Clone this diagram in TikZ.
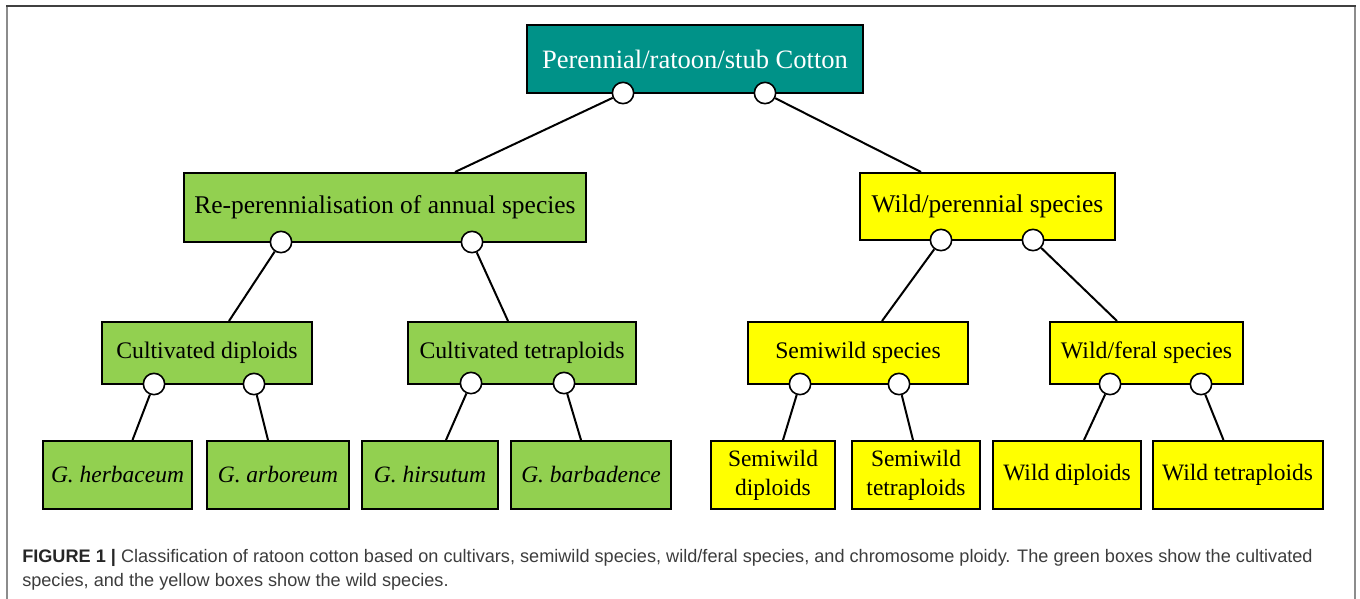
\documentclass[tikz,border=0pt]{standalone}
\usepackage{fontspec}
\setmainfont{Liberation Serif}
\newfontfamily\capfont{Liberation Sans}
\usetikzlibrary{calc}
\definecolor{teal1}{RGB}{0,146,136}
\definecolor{green1}{RGB}{146,208,80}
\definecolor{yellow1}{RGB}{255,255,0}
\definecolor{capgray}{RGB}{60,60,60}
\tikzset{
  box/.style={draw=black, line width=1.5pt, inner sep=0pt, align=center, text=black},
  topbox/.style={box, fill=teal1, text=white, font=\fontsize{19.9pt}{22pt}\selectfont},
  lvtwo/.style={box, font=\fontsize{19.1pt}{22pt}\selectfont},
  lvthree/.style={box, font=\fontsize{17.8pt}{21pt}\selectfont, minimum height=46.5pt},
  lvfour/.style={box, font=\fontsize{17.6pt}{21.75pt}\selectfont, minimum height=51pt, fill=green1},
  lvfoury/.style={box, font=\fontsize{17.6pt}{21.75pt}\selectfont, minimum height=51pt, fill=yellow1},
  knob/.style={circle, draw=black, fill=white, line width=1.2pt, minimum size=16pt, inner sep=0pt},
  conn/.style={draw=black, line width=1.5pt},
  capstyle/.style={anchor=base west, inner sep=0pt, text=capgray, font=\capfont\fontsize{13.6pt}{16pt}\selectfont},
  frameline/.style={line width=1.5pt}
}
\begin{document}
\begin{tikzpicture}[x=0.75pt, y=-0.75pt]
\useasboundingbox (0,0) rectangle (1360,599);
% frame
\draw[frameline, draw=black!45] (7,6) -- (7,604);
\draw[frameline, draw=black!45] (1355,6) -- (1355,604);
\draw[frameline, draw=black!75] (6,6) -- (1356,6);

% boxes
\node[topbox, minimum width=252pt, minimum height=51pt] (top) at (695,59) {Perennial/ratoon/stub Cotton};
\node[lvtwo, fill=green1, minimum width=301.5pt, minimum height=51.75pt] (reper) at (385,207.5) {Re-perennialisation of annual species};
\node[lvtwo, fill=yellow1, minimum width=191.25pt, minimum height=50.25pt] (wildp) at (987.5,206.5) {Wild/perennial species};

\node[lvthree, fill=green1, minimum width=157.5pt] (cdip) at (207,353) {Cultivated diploids};
\node[lvthree, fill=green1, minimum width=171pt] (ctet) at (522,353) {Cultivated tetraploids};
\node[lvthree, fill=yellow1, minimum width=165pt] (semi) at (858,353) {Semiwild species};
\node[lvthree, fill=yellow1, minimum width=144.75pt] (feral) at (1146.5,353) {Wild/feral species};

\node[lvfour, minimum width=111.75pt] (herb) at (117.5,475) {\itshape G. herbaceum};
\node[lvfour, minimum width=106.5pt] (arbo) at (278,475) {\itshape G. arboreum};
\node[lvfour, minimum width=102pt] (hirs) at (430,475) {\itshape G. hirsutum};
\node[lvfour, minimum width=120pt] (barb) at (591,475) {\itshape G. barbadence};
\node[lvfoury, minimum width=93pt] (sdip) at (773,475) {Semiwild\\diploids};
\node[lvfoury, minimum width=96pt] (stet) at (916,475) {Semiwild\\tetraploids};
\node[lvfoury, minimum width=111pt] (wdip) at (1067,475) {Wild diploids};
\node[lvfoury, minimum width=127.5pt] (wtet) at (1237.5,475) {Wild tetraploids};

% knobs
\node[knob] (tc1) at (623,93) {};
\node[knob] (tc2) at (765,93) {};
\node[knob] (rc1) at (281,242) {};
\node[knob] (rc2) at (472,242) {};
\node[knob] (wc1) at (941,240) {};
\node[knob] (wc2) at (1033,240) {};
\node[knob] (cdc1) at (154,384) {};
\node[knob] (cdc2) at (254,384) {};
\node[knob] (ctc1) at (471,383) {};
\node[knob] (ctc2) at (564,383) {};
\node[knob] (sc1) at (800,384) {};
\node[knob] (sc2) at (899,384) {};
\node[knob] (fc1) at (1110,384) {};
\node[knob] (fc2) at (1201,384) {};

% connectors
\draw[conn] (tc1) -- ($(reper.north)+(70,0)$);
\draw[conn] (tc2) -- ($(wildp.north)+(-66.5,0)$);
\draw[conn] (rc1) -- ($(cdip.north)+(22,0)$);
\draw[conn] (rc2) -- ($(ctet.north)+(-14,0)$);
\draw[conn] (wc1) -- ($(semi.north)+(24,0)$);
\draw[conn] (wc2) -- ($(feral.north)+(-29.5,0)$);
\draw[conn] (cdc1) -- ($(herb.north)+(15,0)$);
\draw[conn] (cdc2) -- ($(arbo.north)+(-10,0)$);
\draw[conn] (ctc1) -- ($(hirs.north)+(16,0)$);
\draw[conn] (ctc2) -- ($(barb.north)+(-10,0)$);
\draw[conn] (sc1) -- ($(sdip.north)+(10,0)$);
\draw[conn] (sc2) -- ($(stet.north)+(-3,0)$);
\draw[conn] (fc1) -- ($(wdip.north)+(17,0)$);
\draw[conn] (fc2) -- ($(wtet.north)+(-14,0)$);

% caption
\node[capstyle] (cap1) at (22,562)
  {\textcolor{black!85}{\bfseries FIGURE 1 |} Classification of ratoon cotton based on cultivars, semiwild species, wild/feral species, and chromosome ploidy. The green boxes show the cultivated};
\node[capstyle] (cap2) at (22,586)
  {species, and the yellow boxes show the wild species.};
\end{tikzpicture}
\end{document}
